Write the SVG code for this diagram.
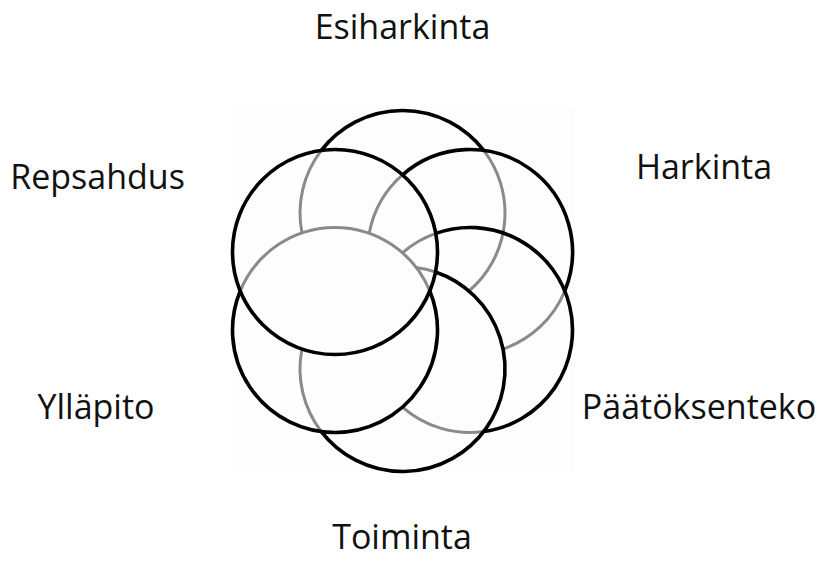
<svg xmlns="http://www.w3.org/2000/svg" width="826" height="567" viewBox="0 0 826 567">
  <style>
    .k { fill: none; stroke: #000; stroke-width: 3.6; stroke-linecap: butt; }
    .g { fill: none; stroke: #8a8a8a; stroke-width: 3; stroke-linecap: butt; }
    .lbl { font-family: "Open Sans", "Liberation Sans", sans-serif; font-size: 34px; fill: #111; text-anchor: middle; }
  </style>
  <rect width="826" height="567" fill="#fff"/>
  <rect x="230" y="107" width="345" height="366" fill="#fdfdfd"/>

  <!-- gray (woven-under) arcs -->
  <g id="under-arcs">
    <path class="g" d="M483.67,150.41 A102.5,102.5 0 0 1 469,291"/>
    <path class="g" d="M301.96,232.95 A102.5,102.5 0 0 1 321.33,150.41"/>
    <path class="g" d="M564.79,291 A102.5,102.5 0 0 1 502.99,349.05"/>
    <path class="g" d="M369.2,233.41 A102.5,102.5 0 0 1 402.45,174.91"/>
    <path class="g" d="M483.62,431.59 A102.5,102.5 0 0 1 402.45,407.09"/>
    <path class="g" d="M402.45,252.91 A102.5,102.5 0 0 1 435.7,233.41"/>
    <path class="g" d="M321.33,431.59 A102.5,102.5 0 0 1 301.96,349.05"/>
    <path class="g" d="M416.12,267.41 A102.5,102.5 0 0 1 435.49,271.95"/>
    <path class="g" d="M240.21,291 A102.5,102.5 0 0 1 429.79,291"/>
  </g>

  <g id="esiharkinta">
    <path class="k" d="M321.33,150.41 A102.5,102.5 0 0 1 483.67,150.41"/>
    <text class="lbl" x="402.5" y="39">Esiharkinta</text>
  </g>
  <g id="harkinta">
    <path class="k" d="M402.45,174.91 A102.5,102.5 0 0 1 564.79,291"/>
    <text class="lbl" x="704" y="179">Harkinta</text>
  </g>
  <g id="paatoksenteko">
    <path class="k" d="M435.7,233.41 A102.5,102.5 0 1 1 483.62,431.59"/>
    <text class="lbl" x="699" y="419">Päätöksenteko</text>
  </g>
  <g id="toiminta">
    <path class="k" d="M435.49,271.95 A102.5,102.5 0 1 1 321.33,431.59"/>
    <text class="lbl" x="402" y="549">Toiminta</text>
  </g>
  <g id="yllapito">
    <path class="k" d="M429.79,291 A102.5,102.5 0 1 1 240.21,291"/>
    <text class="lbl" x="96" y="419">Ylläpito</text>
  </g>
  <g id="repsahdus">
    <circle class="k" cx="335" cy="252" r="102.5"/>
    <text class="lbl" x="97.5" y="189">Repsahdus</text>
  </g>
</svg>
